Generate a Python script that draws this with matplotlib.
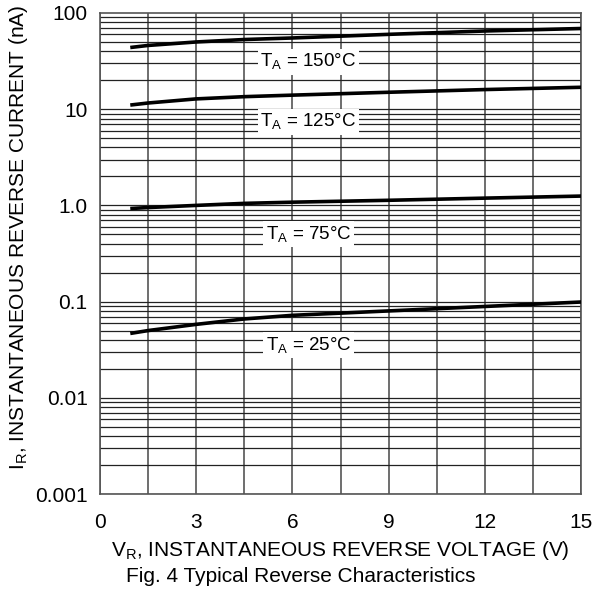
import matplotlib.pyplot as plt
import numpy as np

plt.rcParams['font.family'] = ['Liberation Sans', 'DejaVu Sans']

voltage = [1, 1.5, 3, 4.5, 6, 9, 12, 15]
curves = {
    '150': [44, 46, 50, 53, 55, 60, 65, 69],
    '125': [11.1, 11.6, 12.8, 13.5, 14.0, 15.0, 16.0, 16.9],
    '75': [0.93, 0.95, 1.0, 1.05, 1.08, 1.13, 1.19, 1.25],
    '25': [0.047, 0.050, 0.058, 0.066, 0.072, 0.080, 0.089, 0.099],
}
labelPos = {'150': 31, '125': 7.4, '75': 0.50, '25': 0.035}
yTicks = [0.001, 0.01, 0.1, 1, 10, 100]
yTickLabels = ['0.001', '0.01', '0.1', '1.0', '10', '100']
xTicks = [0, 3, 6, 9, 12, 15]

fig = plt.figure(figsize=(6.01, 5.96), dpi=100)
ax = fig.add_axes([100 / 601, 1 - 494 / 596, 481 / 601, 481 / 596])

ax.set_yscale('log')
ax.set_xlim(0, 15)
ax.set_ylim(0.001, 100)

# grid: vertical every 1.5 V, horizontal at every log minor step
for xv in np.arange(0, 15.01, 1.5):
    ax.axvline(xv, color='#555555', linewidth=1.2, zorder=1)
for dec in range(-3, 2):
    for m in range(1, 10):
        ax.axhline(m * 10.0 ** dec, color='#222222', linewidth=0.9, zorder=1)

for key, vals in curves.items():
    ax.plot(voltage, vals, color='black', linewidth=2.6, zorder=3)
    ax.text(6.5, labelPos[key], 'T$_{\\mathregular{A}}$ = ' + key + '°C', fontsize=13.5,
            ha='center', va='center', zorder=4,
            bbox=dict(facecolor='white', edgecolor='none', pad=2))

ax.set_yticks(yTicks)
ax.set_yticklabels(yTickLabels)
ax.yaxis.set_minor_locator(plt.NullLocator())
ax.set_xticks(xTicks)
ax.tick_params(length=0, labelsize=15, pad=9)
ax.tick_params(axis='x', pad=14)
for s in ax.spines.values():
    s.set_color('#555555')
    s.set_linewidth(1.2)

ax.set_ylabel('I$_{\\mathregular{R}}$, INSTANTANEOUS REVERSE CURRENT (nA)', fontsize=15, labelpad=2)
ax.yaxis.set_label_coords(-0.145, (494 - 237) / 481)
ax.set_xlabel('V$_{\\mathregular{R}}$, INSTANTANEOUS REVERSE VOLTAGE (V)', fontsize=15, labelpad=5)
fig.text(0.5, 1 - 576 / 596, 'Fig. 4 Typical Reverse Characteristics', fontsize=15,
         ha='center', va='center')

fig.savefig('out.png', dpi=100)
